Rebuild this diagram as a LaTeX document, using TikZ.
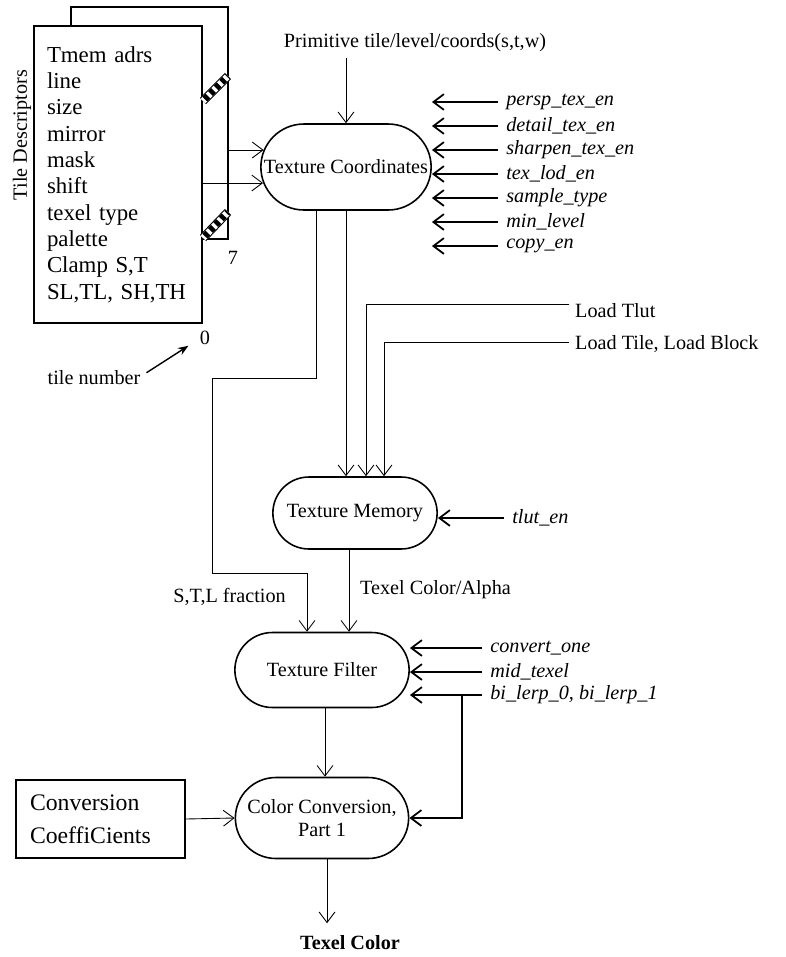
\documentclass[tikz,border=0pt]{standalone}
\usepackage{fontspec}
\setmainfont{Liberation Serif}
\usetikzlibrary{arrows.meta,shapes.misc}

\tikzset{
  >={Straight Barb[length=6pt,width=9pt]},
  proc/.style={draw, line width=0.9pt, rounded rectangle, fill=white},
  regbox/.style={draw, line width=0.8pt, fill=white},
  sig/.style={font=\fontsize{11.5}{13}\selectfont\itshape, anchor=west, inner xsep=0.16cm},
  flow/.style={->, line width=0.5pt},
  ctl/.style={->, line width=1pt},
}

\begin{document}
\begin{tikzpicture}[x=0.02cm, y=-0.02cm, font=\fontsize{11.5}{13.5}\selectfont]
    \useasboundingbox (0,0) rectangle (785,957);

    % tile descriptors, stacked 0..7
    \node[regbox, minimum width=3.14cm, minimum height=4.64cm] (back) at (149.5,123) {};
    \node[regbox, minimum width=3.36cm, minimum height=5.94cm, text width=2.84cm, inner xsep=0.26cm,
          align=left, font=\fontsize{13}{15}\selectfont] (desc) at (118,174.5)
        {Tmem adrs\\line\\size\\mirror\\mask\\shift\\texel type\\palette\\Clamp S,T\\SL,TL, SH,TH};
    \foreach \ya/\yb in {101/76, 238/212} {
        \draw[line width=5pt] (203,\ya) -- (228,\yb);
        \draw[line width=3.8pt, white] (203,\ya) -- (228,\yb);
        \draw[line width=3.8pt, dash pattern=on 2.5pt off 2pt, dash phase=-1.5pt] (203,\ya) -- (228,\yb);
    }
    \node[rotate=90] (tdlabel) at (22,135) {Tile Descriptors};
    \node (seven) at (233,258) {7};
    \node (zero) at (205,338) {0};
    \node (tilenum) at (94,378) {tile number};
    \draw[-{Stealth[length=6pt,width=4.5pt]}, line width=0.8pt]
        ([yshift=3pt]tilenum.east) -- ([xshift=-3pt,yshift=3pt]zero.south west);

    % texture coordinates
    \node[proc, minimum width=3.64cm, minimum height=1.72cm] (tc) at (346,167) {Texture Coordinates};
    \node (prim) at (415,43) {Primitive tile/level/coords(s,t,w)};
    \draw[flow] (prim.south -| tc.north) -- (tc.north);
    \coordinate (rowA) at (0,150);
    \coordinate (rowB) at (0,183);
    \draw[flow] (back.east |- rowA) -- ([xshift=0.07cm]tc.west |- rowA);
    \draw[flow] (desc.east |- rowB) -- ([xshift=0.06cm]tc.west |- rowB);
    \foreach \nm/\txt/\y in {persp/persp\_tex\_en/102, detail/detail\_tex\_en/126,
                             sharpen/sharpen\_tex\_en/150, lod/tex\_lod\_en/174,
                             sample/sample\_type/198, minlev/min\_level/222, copy/copy\_en/246} {
        \node[sig] (\nm) at (498,\y) {\txt};
        \draw[ctl] (\nm.west) -- (tc.east |- \nm.west);
    }

    % texture memory
    \node[proc, minimum width=3.52cm, minimum height=1.44cm] (tm) at (355,513) {Texture Memory};
    \draw[flow] (tc.south) -- (tc.south |- tm.north);
    \node[anchor=west] (ldtlut) at (569,311) {Load Tlut};
    \node[anchor=west] (ldtile) at (569,344) {Load Tile, Load Block};
    \draw[flow] ([yshift=3.5pt]ldtlut.west) -| ([xshift=0.22cm]tm.north);
    \draw[flow] ([yshift=1pt]ldtile.west) -| ([xshift=0.58cm]tm.north);
    \node[sig] (tluten) at (504,518) {tlut\_en};
    \draw[ctl] (tluten.west) -- (tm.east |- tluten.west);

    % texture filter
    \node[proc, minimum width=3.72cm, minimum height=1.5cm] (tf) at (322,670) {Texture Filter};
    \draw[flow] ([xshift=-0.6cm]tc.south) -- ++(0,168) -| (212,573) -| ([xshift=-0.3cm]tf.north);
    \draw[flow] ([xshift=-0.12cm]tm.south) -- ([xshift=-0.12cm]tm.south |- tf.north);
    \node[anchor=east] (stlfrac) at (292,597) {S,T,L fraction};
    \node[anchor=west] (texalpha) at (354,590) {Texel Color/Alpha};
    \coordinate (tfr) at (tf.east);
    \foreach \nm/\txt/\y in {convone/convert\_one/648, midtex/mid\_texel/672,
                             bilerp/bi\_lerp\_0{,} bi\_lerp\_1/695} {
        \node[sig] (\nm) at (482,\y) {\txt};
        \draw[ctl] (\nm.west) -- (tfr |- \nm.west);
    }

    % color conversion
    \node[proc, minimum width=3.7cm, minimum height=1.62cm, align=center] (cc) at (322,818)
        {Color Conversion,\\Part 1};
    \draw[ctl] ([xshift=-0.4cm]bilerp.west) |- (cc.east);
    \draw[flow] ([xshift=0.06cm]tf.south) -- ([xshift=0.06cm]tf.south |- cc.north);
    \node[regbox, minimum width=3.38cm, minimum height=1.56cm, text width=2.82cm, inner xsep=0.28cm,
          align=left, font=\fontsize{13.5}{18.7}\selectfont] (conv) at (100.5,819)
        {Conversion\\CoeffiCients};
    \draw[flow] (conv.east) -- (cc.west);
    \node[font=\fontsize{11.5}{13.5}\selectfont\bfseries, inner ysep=7pt] (out) at (350,943) {Texel Color};
    \draw[flow] ([xshift=0.1cm]cc.south) -- ([xshift=0.1cm]cc.south |- out.north);
\end{tikzpicture}
\end{document}
